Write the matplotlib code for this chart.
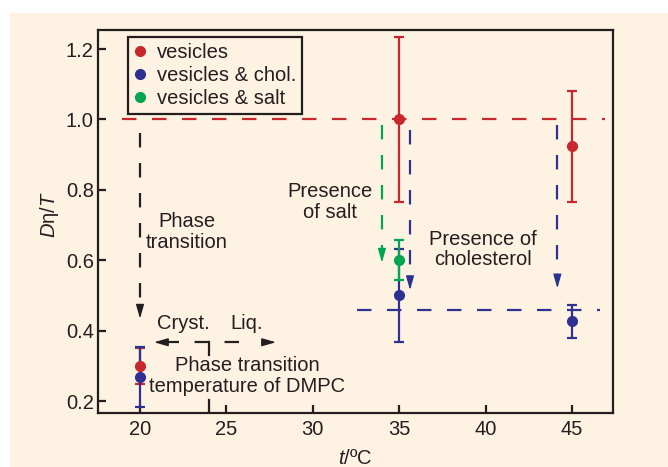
import matplotlib
matplotlib.use('Agg')
import matplotlib.pyplot as plt
from matplotlib.patches import Rectangle
from matplotlib.lines import Line2D

# data
temps = [20, 35, 45]
ves_y = [0.30, 1.00, 0.924]
ves_err = [0.052, 0.235, 0.158]
chol_y = [0.268, 0.50, 0.426]
chol_err = [0.085, 0.132, 0.048]
salt_x = [35]
salt_y = [0.60]
salt_err = [0.057]

xticks = [20, 25, 30, 35, 40, 45]
yticks = [0.2, 0.4, 0.6, 0.8, 1.0, 1.2]

RED = '#C8282D'
BLUE = '#2E3192'
GREEN = '#00A651'
INK = '#231F20'
CREAM = '#FEF3E3'

plt.rcParams['font.family'] = ['Liberation Sans', 'DejaVu Sans']
plt.rcParams['mathtext.fontset'] = 'custom'
plt.rcParams['mathtext.it'] = 'Liberation Sans:italic'
plt.rcParams['mathtext.rm'] = 'Liberation Sans'
FS = 14.5

fig = plt.figure(figsize=(6.68, 4.67), dpi=100, facecolor='white')
fig.patches.append(Rectangle((10 / 668, 0), 1, 1 - 13 / 467, transform=fig.transFigure,
                             facecolor=CREAM, edgecolor='none', zorder=-10))
ax = fig.add_axes([98 / 668, 54 / 467, 515 / 668, 383 / 467])
ax.set_facecolor(CREAM)
ax.set_xlim(17.57, 47.37)
ax.set_ylim(0.166, 1.254)

DASH = (6.5, 7)
LW = 1.6

def dashed(xs, ys, color):
    ax.plot(xs, ys, color=color, lw=LW, dashes=DASH, zorder=2)

def head(x, y, color, dx=0.0, dy=0.0):
    # small filled arrowhead at the end of a dashed guide
    ax.annotate('', xy=(x, y), xytext=(x + dx, y + dy),
                arrowprops=dict(arrowstyle='-|>,head_length=0.7,head_width=0.2',
                                color=color, lw=1.0, shrinkA=0, shrinkB=0,
                                mutation_scale=12), zorder=3)

# reference lines
dashed([18.96, 46.9], [1.0, 1.0], RED)
dashed([32.56, 46.6], [0.46, 0.46], BLUE)

# vertical guide arrows
dashed([20, 20], [0.96, 0.47], INK)
head(20, 0.434, INK, dy=0.04)
dashed([34.0, 34.0], [0.985, 0.63], GREEN)
head(34.0, 0.593, GREEN, dy=0.04)
dashed([35.625, 35.625], [0.97, 0.55], BLUE)
head(35.625, 0.515, BLUE, dy=0.04)
dashed([44.15, 44.15], [0.985, 0.555], BLUE)
head(44.15, 0.52, BLUE, dy=0.04)

# cryst / liq arrows around transition temperature
yh = 0.367
ax.plot([24, 24], [yh, 0.332], color=INK, lw=LW, zorder=2)
ax.plot([24, 24], [0.203, 0.166], color=INK, lw=LW, zorder=2)
ax.plot([24, 21.35], [yh, yh], color=INK, lw=LW, dashes=(6.5, 7), zorder=2)
head(20.81, yh, INK, dx=0.6)
ax.plot([24, 27.3], [yh, yh], color=INK, lw=LW, dashes=(0, 7, 6.5, 5), zorder=2)
head(27.87, yh, INK, dx=-0.6)

# error bars
ebkw = dict(fmt='none', lw=LW, capsize=3.6, capthick=LW, zorder=4)
ax.errorbar(temps, ves_y, yerr=ves_err, ecolor=RED, **ebkw)
ax.errorbar(temps, chol_y, yerr=chol_err, ecolor=BLUE, **ebkw)
ax.errorbar(salt_x, salt_y, yerr=salt_err, ecolor=GREEN, **ebkw)
ax.plot(temps, ves_y, 'o', color=RED, ms=7, zorder=5)
ax.plot(temps, chol_y, 'o', color=BLUE, ms=7, zorder=5)
ax.plot(salt_x, salt_y, 'o', color=GREEN, ms=7, zorder=5)

# annotations
tkw = dict(fontsize=FS, color=INK, ha='center', va='center', linespacing=1.1, zorder=6)
ax.text(22.72, 0.68, 'Phase\ntransition', **tkw)
ax.text(31.0, 0.766, 'Presence\nof salt', **tkw)
ax.text(39.85, 0.63, 'Presence of\ncholesterol', **tkw)
ax.text(22.49, 0.42, 'Cryst.', **tkw)
ax.text(26.19, 0.42, 'Liq.', **tkw)
ax.text(26.2, 0.271, 'Phase transition\ntemperature of DMPC', **tkw)

# axes styling
for s in ax.spines.values():
    s.set_linewidth(1.6)
    s.set_color(INK)
ax.set_xticks(xticks)
ax.set_yticks(yticks)
ax.set_yticklabels([f'{v:.1f}' for v in yticks])
ax.tick_params(direction='in', length=6, width=1.6, color=INK, labelsize=FS,
               labelcolor=INK)
ax.tick_params(axis='x', pad=5)
ax.tick_params(axis='y', pad=3)

fig.text(50 / 668, 1 - 215 / 467, r'$\mathit{D}$η/$\mathit{T}$', fontsize=FS, color=INK,
         rotation=90, ha='center', va='center')
fig.text(355 / 668, 1 - 458 / 467, r'$\mathit{t}$/ºC', fontsize=FS, color=INK,
         ha='center', va='center')

handles = [Line2D([], [], ls='none', marker='o', ms=7, color=c) for c in (RED, BLUE, GREEN)]
leg = ax.legend(handles, ['vesicles', 'vesicles & chol.', 'vesicles & salt'],
                loc='upper left', bbox_to_anchor=(0.058, 0.982), borderaxespad=0,
                fontsize=FS, frameon=True, fancybox=False, handlelength=0.6,
                handletextpad=0.55, labelspacing=0.2, borderpad=0.3,
                facecolor=CREAM, edgecolor=INK, framealpha=1)
leg.get_frame().set_linewidth(1.6)
for t in leg.get_texts():
    t.set_color(INK)

fig.savefig('out.png', dpi=100, facecolor='white')
